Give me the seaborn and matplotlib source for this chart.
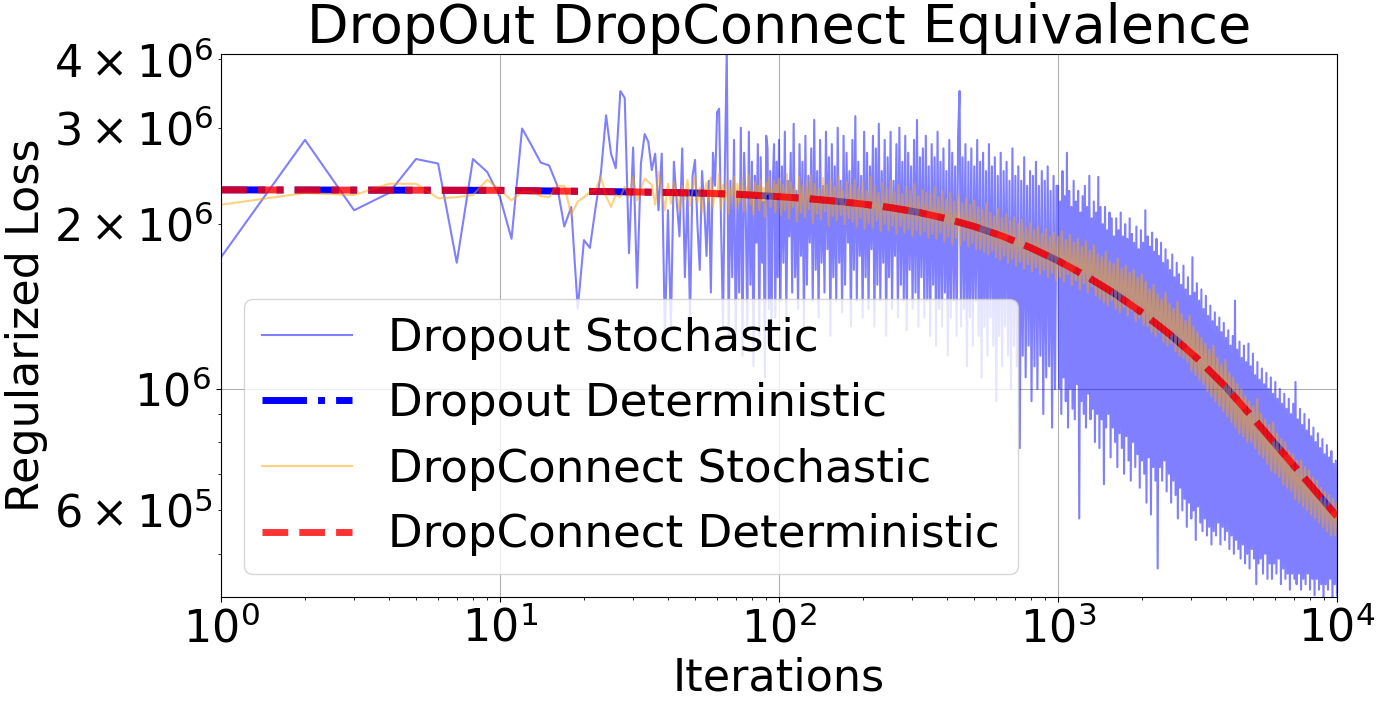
import numpy as np
import seaborn as sns
import matplotlib
matplotlib.use("Agg")
import matplotlib.pyplot as plt

# losses below in millions
LOSS_UNIT = 1e6

# iterations 1..99, one value per iteration
DROPOUT_STOCH_HEAD = [
    1.74, 2.85, 2.12, 2.28, 2.63, 2.58, 1.70, 2.63, 2.49, 2.24,
    1.88, 2.99, 2.78, 2.59, 2.56, 2.36, 1.98, 2.15, 1.40, 1.87,
    1.81, 2.14, 2.48, 3.16, 2.69, 2.53, 3.50, 3.40, 1.77, 2.76,
    1.53, 2.58, 2.92, 2.83, 2.51, 2.69, 2.12, 2.69, 1.25, 2.12,
    1.30, 2.60, 2.20, 1.90, 2.75, 1.60, 2.30, 1.35, 2.45, 2.62,
    2.00, 1.65, 2.50, 2.15, 1.75, 2.40, 1.50, 2.70, 2.35, 3.20,
    3.25, 2.00, 1.30, 2.55, 4.20, 1.25, 2.40, 1.60, 2.85, 1.20,
    2.30, 1.50, 3.00, 1.15, 2.70, 2.10, 1.30, 2.95, 1.55, 2.60,
    1.10, 2.45, 1.85, 2.80, 1.25, 2.65, 1.70, 2.20, 1.05, 2.90,
    2.75, 1.40, 2.50, 1.20, 2.35, 2.80, 1.35, 2.60, 1.60,
]
DROPCONNECT_STOCH_HEAD = [
    2.17, 2.28, 2.26, 2.37, 2.37, 2.23, 2.24, 2.26, 2.41, 2.31,
    2.21, 2.29, 2.29, 2.25, 2.24, 2.35, 2.35, 2.08, 2.20, 2.24,
    2.29, 2.31, 2.44, 2.25, 2.15, 2.26, 2.24, 2.34, 2.24, 2.44,
    2.21, 2.32, 2.42, 2.39, 2.36, 2.17, 2.49, 2.31, 2.12, 2.37,
    2.18, 2.39, 2.27, 2.12, 2.35, 2.22, 2.41, 2.16, 2.30, 2.45,
    2.19, 2.33, 2.10, 2.28, 2.38, 2.20, 2.43, 2.15, 2.31, 2.24,
    2.47, 2.13, 2.36, 2.21, 2.40, 2.09, 2.32, 2.26, 2.44, 2.14,
    2.37, 2.19, 2.29, 2.42, 2.11, 2.34, 2.23, 2.46, 2.17, 2.30,
    2.08, 2.39, 2.25, 2.35, 2.12, 2.41, 2.20, 2.33, 2.06, 2.38,
    2.27, 2.44, 2.15, 2.31, 2.22, 2.40, 2.10, 2.36, 2.24,
]

# iterations 100..1000, read on an even log grid (dense band)
DROPOUT_STOCH_MID = [
    2.85, 1.45, 2.55, 1.70, 2.95, 1.35, 2.40, 1.90, 2.70, 1.50,
    3.05, 1.60, 2.30, 1.40, 2.80, 1.75, 2.60, 1.30, 2.90, 1.55,
    2.45, 1.85, 2.75, 1.45, 3.10, 1.65, 2.50, 1.35, 2.85, 1.70,
    2.35, 1.50, 2.95, 1.80, 2.65, 1.25, 2.80, 1.60, 2.55, 1.45,
    3.00, 1.70, 2.40, 1.38, 2.90, 1.55, 2.70, 1.85, 2.50, 1.30,
    2.85, 1.65, 3.15, 1.45, 2.60, 1.75, 2.45, 1.35, 2.95, 1.60,
    2.70, 1.40, 2.55, 1.80, 2.90, 1.30, 2.75, 1.55, 3.05, 1.45,
    2.50, 1.70, 2.85, 1.25, 2.65, 1.60, 2.95, 1.40, 2.40, 1.75,
    2.80, 1.35, 3.00, 1.55, 2.60, 1.45, 2.90, 1.28, 2.70, 1.65,
    2.55, 1.40, 2.85, 1.50, 3.10, 1.30, 2.65, 1.60, 2.75, 1.35,
    2.90, 1.45, 2.55, 1.25, 2.80, 1.55, 2.65, 1.20, 2.95, 1.40,
    2.60, 1.30, 2.75, 1.50, 2.50, 1.15, 2.85, 1.35, 2.70, 1.45,
    2.55, 1.25, 2.90, 3.50, 1.30, 2.65, 1.40, 2.80, 1.10, 2.60,
    1.35, 2.75, 1.20, 2.55, 1.45, 2.85, 1.25, 2.60, 1.05, 2.70,
    1.30, 2.50, 1.15, 2.80, 1.35, 2.55, 1.20, 2.65, 0.95, 2.45,
    1.25, 2.70, 1.10, 2.50, 1.30, 2.60, 1.15, 2.40, 1.00, 2.75,
    1.20, 2.45, 1.10, 2.55, 0.78, 2.40, 1.15, 2.65, 1.05, 2.35,
    1.20, 2.50, 0.95, 2.45, 1.10, 2.60, 1.00, 2.35, 1.15, 2.50,
    0.90, 2.40, 1.05, 2.55, 1.10, 2.30, 0.85, 2.45, 1.00, 2.35,
]
DROPCONNECT_STOCH_MID = [
    2.42, 2.08, 2.36, 2.12, 2.47, 2.05, 2.38, 2.15, 2.33, 2.02,
    2.44, 2.10, 2.35, 2.06, 2.40, 2.13, 2.46, 2.01, 2.37, 2.09,
    2.32, 2.04, 2.43, 2.11, 2.36, 1.99, 2.41, 2.07, 2.34, 2.03,
    2.45, 2.08, 2.30, 2.00, 2.39, 2.05,
    2.36, 2.02, 2.41, 1.98, 2.33, 2.05, 2.39, 1.96, 2.30, 2.01,
    2.44, 1.97, 2.35, 2.03, 2.28, 1.94, 2.38, 2.00, 2.32, 1.95,
    2.40, 1.99, 2.29, 1.92, 2.36, 1.98, 2.27, 1.93, 2.34, 1.96,
    2.30, 1.90, 2.37, 1.95, 2.25, 1.91, 2.31, 1.94, 2.28, 1.89,
    2.27, 1.92, 2.33, 1.88, 2.24, 1.93, 2.30, 1.86, 2.22, 1.90,
    2.28, 1.84, 2.20, 1.89, 2.26, 1.83, 2.18, 1.87, 2.23, 1.82,
    2.17, 1.85, 2.21, 1.80,
    2.15, 1.80, 2.12, 1.78, 2.18, 1.76, 2.10, 1.79, 2.07, 1.74,
    2.13, 1.72, 2.05, 1.75, 2.09, 1.70, 2.02, 1.73, 2.06, 1.68,
    2.00, 1.71, 2.04, 1.66, 1.97, 1.69, 2.01, 1.64, 1.95, 1.67,
    1.98, 1.62, 1.92, 1.65, 1.96, 1.60, 1.90, 1.63, 1.93, 1.58,
]

# iterations 1000..10000, read on an even log grid
DROPOUT_STOCH_LATE = [
    2.35, 1.00, 2.20, 0.90, 2.50, 1.05, 2.25, 0.95, 2.70, 0.85,
    2.30, 1.00, 2.15, 0.92, 2.40, 0.88, 2.20, 1.02, 2.30, 0.58,
    2.10, 0.95, 2.25, 0.90, 2.35, 0.85, 2.15, 0.98, 2.45, 0.88,
    2.05, 0.92, 2.20, 0.80, 2.10, 0.90, 2.44, 0.78, 2.15, 0.88,
    2.00, 0.67, 2.15, 0.85, 1.95, 0.90, 2.10, 0.75, 2.05, 0.85,
    1.90, 0.80, 2.05, 0.72, 1.95, 0.83, 2.10, 0.78, 1.90, 0.70,
    2.00, 0.82, 1.88, 0.74, 2.05, 0.68, 1.92, 0.80, 1.85, 0.72,
    1.98, 0.76, 1.80, 0.66, 1.95, 0.74, 1.85, 0.70, 2.12, 0.62,
    1.90, 0.75, 1.82, 0.59, 1.93, 0.72, 1.78, 0.68, 1.88, 0.47,
    1.75, 0.72, 1.85, 0.68, 1.70, 0.74, 1.80, 0.65, 1.72, 0.70,
    1.65, 0.62, 1.76, 0.68, 1.60, 0.64, 1.70, 0.58, 1.62, 0.66,
    1.55, 0.60, 1.68, 0.63, 1.52, 0.56, 1.60, 0.62, 1.48, 0.58,
    1.74, 0.60, 1.50, 0.53, 1.56, 0.61, 1.45, 0.57, 1.52, 0.55,
    1.40, 0.58, 1.48, 0.54, 1.36, 0.56, 1.42, 0.52, 1.33, 0.55,
    1.38, 0.54, 1.30, 0.57, 1.35, 0.52, 1.27, 0.56, 1.32, 0.53,
    1.24, 0.55, 1.28, 0.51, 1.20, 0.54, 1.25, 0.50, 1.45, 0.53,
    1.18, 0.51, 1.22, 0.49, 1.14, 0.52, 1.20, 0.48, 1.12, 0.50,
    1.21, 0.47, 1.10, 0.51, 1.16, 0.49, 1.06, 0.44, 1.12, 0.48,
    1.04, 0.49, 1.09, 0.46, 1.02, 0.50, 1.07, 0.45, 1.00, 0.48,
    1.05, 0.45, 0.98, 0.48, 1.03, 0.46, 0.96, 0.49, 1.00, 0.44,
    0.94, 0.47, 0.98, 0.45, 0.92, 0.46, 0.96, 0.43, 0.90, 0.46,
    0.94, 0.45, 1.03, 0.44, 0.88, 0.46, 0.92, 0.43, 0.86, 0.45,
    0.90, 0.44, 0.84, 0.46, 0.88, 0.43, 0.82, 0.45, 0.85, 0.42,
    0.80, 0.45, 0.83, 0.43, 0.78, 0.44, 0.81, 0.41, 0.76, 0.44,
    0.79, 0.43, 0.75, 0.45, 0.77, 0.41, 0.73, 0.44, 0.74, 0.42,
]
DROPCONNECT_STOCH_LATE = [
    1.90, 1.60, 1.94, 1.57, 1.87, 1.62, 1.91, 1.55, 1.85, 1.58,
    1.88, 1.52, 1.82, 1.56, 1.86, 1.50, 1.79, 1.54, 1.83, 1.48,
    1.76,
    1.46, 1.74, 1.44, 1.78, 1.42, 1.71, 1.45, 1.69, 1.40, 1.73,
    1.38, 1.66, 1.41, 1.68, 1.36, 1.63, 1.39, 1.65, 1.33, 1.60,
    1.35, 1.62, 1.31, 1.57, 1.30,
    1.52, 1.27, 1.55, 1.25, 1.49, 1.27, 1.46, 1.22, 1.50, 1.20,
    1.43, 1.21, 1.40, 1.17, 1.44, 1.15, 1.37, 1.14, 1.33, 1.12,
    1.36, 1.08, 1.30, 1.06, 1.27,
    1.04, 1.24, 1.02, 1.21, 0.99, 1.18, 0.97, 1.20, 0.95, 1.14,
    0.93, 1.11, 0.91, 1.13, 0.89, 1.07, 0.87, 1.05, 0.85, 1.02,
    0.83, 1.00, 0.82, 0.97, 0.80,
    0.95, 0.80, 0.93, 0.78, 0.96, 0.76, 0.90, 0.75, 0.88, 0.73,
    0.86, 0.71, 0.87, 0.70, 0.83, 0.69, 0.81, 0.67, 0.80, 0.66,
    0.77, 0.65, 0.76, 0.63, 0.74,
    0.62, 0.74, 0.61, 0.72, 0.60, 0.71, 0.59, 0.69, 0.58, 0.68,
    0.57, 0.66, 0.56, 0.65, 0.55, 0.64, 0.54, 0.63, 0.54, 0.62,
]

# deterministic curves (both methods give the same curve)
DET_ITERS = [1, 10, 30, 50, 70, 100, 126, 158, 200, 251, 316, 398, 501, 631, 794,
             1000, 1259, 1585, 1995, 2512, 3162, 3981, 5012, 6310, 7943, 10000]
DROPOUT_DET = [2.31, 2.305, 2.29, 2.28, 2.268, 2.245, 2.227, 2.204, 2.176, 2.144,
               2.102, 2.047, 1.980, 1.902, 1.813, 1.715, 1.609, 1.497, 1.380, 1.259,
               1.136, 1.010, 0.884, 0.771, 0.672, 0.585]
DROPCONNECT_DET = [2.31, 2.305, 2.29, 2.28, 2.268, 2.245, 2.227, 2.204, 2.176, 2.144,
                   2.102, 2.047, 1.980, 1.902, 1.813, 1.715, 1.609, 1.497, 1.380, 1.259,
                   1.136, 1.010, 0.884, 0.771, 0.672, 0.585]

LABELS = ["Dropout Stochastic", "Dropout Deterministic",
          "DropConnect Stochastic", "DropConnect Deterministic"]


def stoch_series(head, mid, late):
    x = np.concatenate([
        np.arange(1, len(head) + 1),
        np.geomspace(100, 1000, len(mid), endpoint=False),
        np.geomspace(1000, 10000, len(late)),
    ])
    y = np.array(head + mid + late) * LOSS_UNIT
    return x, y


plt.rcParams["font.size"] = 32

fig, ax = plt.subplots(figsize=(13.83, 7.03), dpi=100)
fig.subplots_adjust(left=0.1598, right=0.9667, bottom=0.1508, top=0.9232)

x, y = stoch_series(DROPOUT_STOCH_HEAD, DROPOUT_STOCH_MID, DROPOUT_STOCH_LATE)
sns.lineplot(x=x, y=y, ax=ax, color="blue", alpha=0.5, lw=1.5,
             estimator=None, sort=False, label=LABELS[0])
sns.lineplot(x=DET_ITERS, y=np.array(DROPOUT_DET) * LOSS_UNIT, ax=ax, color="blue",
             lw=5, linestyle="-.", estimator=None, sort=False, label=LABELS[1])
x, y = stoch_series(DROPCONNECT_STOCH_HEAD, DROPCONNECT_STOCH_MID, DROPCONNECT_STOCH_LATE)
sns.lineplot(x=x, y=y, ax=ax, color="orange", alpha=0.5, lw=1.5,
             estimator=None, sort=False, label=LABELS[2])
sns.lineplot(x=DET_ITERS, y=np.array(DROPCONNECT_DET) * LOSS_UNIT, ax=ax, color="red",
             alpha=0.8, lw=5, linestyle="--", estimator=None, sort=False, label=LABELS[3])

ax.set_xscale("log")
ax.set_yscale("log")
ax.set_xlim(1, 1e4)
ax.set_ylim(4.17e5, 4.09e6)
ax.grid(True, which="major")
ax.set_title("DropOut DropConnect Equivalence", fontsize=38.9)
ax.set_xlabel("Iterations")
ax.set_ylabel("Regularized Loss")
ax.legend(loc="lower left", fontsize=32.5)

fig.savefig("out.png", dpi=100)
